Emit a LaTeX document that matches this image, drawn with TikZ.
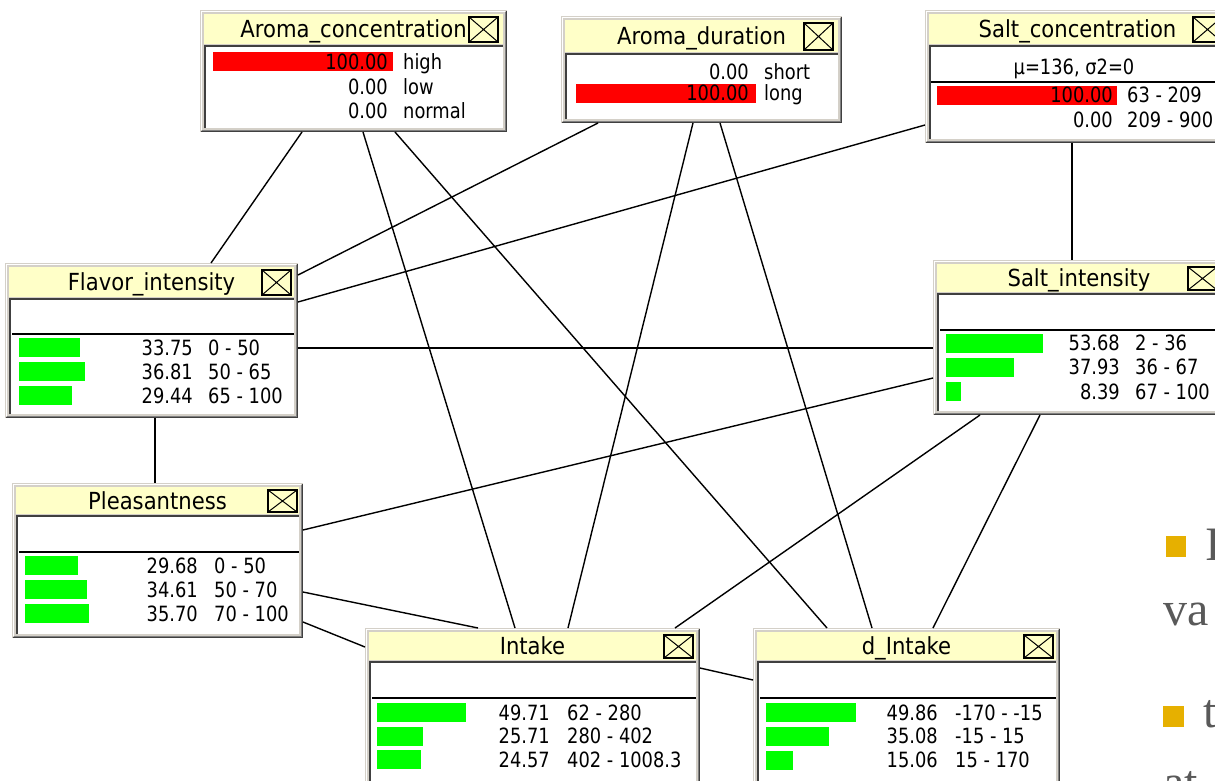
\documentclass[tikz,border=0pt]{standalone}
\usepackage{fontspec}
\usetikzlibrary{calc,fit}
\newfontfamily\titlefont[FakeStretch=0.9]{DejaVu Sans}
\newfontfamily\rowfont[FakeStretch=0.85]{DejaVu Sans}
\newfontfamily\slidefont{Liberation Serif}

\definecolor{framegray}{HTML}{D4D0C8}
\definecolor{shadowdark}{HTML}{404040}
\definecolor{shadowgray}{HTML}{808080}
\definecolor{titlebar}{HTML}{FFFFC8}
\definecolor{barred}{HTML}{FF0000}
\definecolor{bargreen}{HTML}{00FF00}
\definecolor{slidegray}{HTML}{595959}
\definecolor{bulletgold}{HTML}{E6B000}

\tikzset{
  connector/.style={draw=black, line width=1.4pt},
  titletext/.style={font=\titlefont\fontsize{23.5}{28}\selectfont, inner sep=0pt, anchor=base, text=black},
  rowtext/.style={font=\rowfont\fontsize{21}{25}\selectfont, inner sep=0pt, text=black},
  slidetext/.style={font=\slidefont\fontsize{48}{56}\selectfont, inner sep=0pt, anchor=base west, text=slidegray},
}

% #1 name, #2 x0, #3 y0, #4 x1, #5 y1, #6 bottom of title bar, #7 title, #8 left of close box
\newcommand\bnbox[8]{%
  \node[fit={(#2,#3)(#4,#5)}, inner sep=0pt, outer sep=0pt] (#1) {};
  \fill[framegray] (#2,#3) rectangle (#4,#5);
  \draw[white, line width=1.2pt] (#2+1.6,#5-2) -- (#2+1.6,#3+1.6) -- (#4-2,#3+1.6);
  \draw[shadowdark, line width=1.2pt] (#2+0.6,#5-0.6) -- (#4-0.6,#5-0.6) -- (#4-0.6,#3+0.6);
  \draw[shadowgray, line width=1.2pt] (#2+1.8,#5-1.8) -- (#4-1.8,#5-1.8) -- (#4-1.8,#3+1.8);
  \fill[titlebar] (#2+4,#3+4) rectangle (#4-4,#6);
  \begin{scope}
    \clip (#2+4,#3+4) rectangle (#8,#6);
    \node[titletext] at ({(#2+#4)/2},{(#3+4+#6)/2+8.5}) {#7};
  \end{scope}
  \draw[black, line width=1.4pt] (#8,#3+7) rectangle (#8+29,#6-2);
  \draw[black, line width=1pt] (#8,#3+7) -- (#8+29,#6-2) (#8,#6-2) -- (#8+29,#3+7);
  \fill[white] (#2+5,#6+1) rectangle (#4-4,#5-4);
  \draw[shadowdark, line width=2pt] (#2+5,#5-4) -- (#2+5,#6+1.5) -- (#4-4,#6+1.5);
}
% separator under the mean line: #1 x0, #2 x1, #3 y
\newcommand\bnsep[3]{\draw[black, line width=1.6pt] (#1,#3) -- (#2,#3);}
% state row: #1 bar left, #2 row centre y, #3 value, #4 bar colour, #5 value right edge, #6 label left, #7 label
\newcommand\bnrow[7]{%
  \pgfmathparse{(#3>0)?1:0}%
  \ifnum\pgfmathresult=1
    \fill[#4] (#1,#2-9.5) rectangle ({#1+1.8*#3},#2+9.5);
  \fi
  \node[rowtext, anchor=base east] at (#5,#2+7.5) {#3};
  \node[rowtext, anchor=base west] at (#6,#2+7.5) {#7};
}

\begin{document}
\begin{tikzpicture}[x=1pt,y=-1pt]
\useasboundingbox (0,0) rectangle (1215,780);
\fill[white] (0,0) rectangle (1215,780);
\clip (0,0) rectangle (1215,780);

% ---- nodes ----
\bnbox{ac}{200}{10}{507}{132}{44}{Aroma\_concentration}{469}
\bnrow{213}{61.5}{100.00}{barred}{388}{403}{high}
\bnrow{213}{86.5}{0.00}{bargreen}{388}{403}{low}
\bnrow{213}{110.5}{0.00}{bargreen}{388}{403}{normal}

\bnbox{ad}{561}{16}{842}{123}{52}{Aroma\_duration}{804}
\bnrow{576}{71.5}{0.00}{bargreen}{749}{764}{short}
\bnrow{576}{93}{100.00}{barred}{749}{764}{long}

\bnbox{sc}{925}{10}{1230}{143}{44}{Salt\_concentration}{1193}
\node[rowtext, anchor=base] (scmean) at (1074,74.5) {μ=136, σ2=0};
\bnsep{931}{1226}{82}
\bnrow{937}{95}{100.00}{barred}{1113}{1127}{63 - 209}
\bnrow{937}{119.5}{0.00}{bargreen}{1113}{1127}{209 - 900}

\bnbox{fi}{5}{263}{298}{418}{297}{Flavor\_intensity}{262}
\bnsep{12}{294}{334}
\bnrow{19}{347.5}{33.75}{bargreen}{193}{208}{0 - 50}
\bnrow{19}{371.5}{36.81}{bargreen}{193}{208}{50 - 65}
\bnrow{19}{395.5}{29.44}{bargreen}{193}{208}{65 - 100}

\bnbox{si}{933}{260}{1225}{415}{292}{Salt\_intensity}{1188}
\bnsep{940}{1221}{330}
\bnrow{946}{343}{53.68}{bargreen}{1120}{1135}{2 - 36}
\bnrow{946}{367}{37.93}{bargreen}{1120}{1135}{36 - 67}
\bnrow{946}{391.5}{8.39}{bargreen}{1120}{1135}{67 - 100}

\bnbox{pl}{12}{483}{303}{638}{514}{Pleasantness}{268}
\bnsep{19}{299}{552}
\bnrow{25}{565.5}{29.68}{bargreen}{198}{214}{0 - 50}
\bnrow{25}{589.5}{34.61}{bargreen}{198}{214}{50 - 70}
\bnrow{25}{613.5}{35.70}{bargreen}{198}{214}{70 - 100}

\bnbox{in}{365}{628}{700}{790}{660}{Intake}{664}
\bnsep{372}{696}{698}
\bnrow{377}{712.5}{49.71}{bargreen}{550}{567}{62 - 280}
\bnrow{377}{736}{25.71}{bargreen}{550}{567}{280 - 402}
\bnrow{377}{759.5}{24.57}{bargreen}{550}{567}{402 - 1008.3}

\bnbox{di}{753}{628}{1060}{790}{660}{d\_Intake}{1024}
\bnsep{760}{1056}{698}
\bnrow{766}{712.5}{49.86}{bargreen}{938}{955}{-170 - -15}
\bnrow{766}{736}{35.08}{bargreen}{938}{955}{-15 - 15}
\bnrow{766}{760}{15.06}{bargreen}{938}{955}{15 - 170}

% ---- links between the nodes ----
\draw[connector] ($(ac.south west)+(102,0)$) -- ($(fi.north west)+(206,0)$);
\draw[connector] ($(ac.south west)+(163,0)$) -- ($(in.north west)+(150,0)$);
\draw[connector] ($(ac.south west)+(195,0)$) -- ($(di.north west)+(74,0)$);
\draw[connector] ($(ad.south west)+(37,0)$) -- ($(fi.north east)+(0,12)$);
\draw[connector] ($(ad.south west)+(132,0)$) -- ($(in.north west)+(203,0)$);
\draw[connector] ($(ad.south west)+(159,0)$) -- ($(di.north west)+(119,0)$);
\draw[connector] ($(sc.north west)+(0,115)$) -- ($(fi.north east)+(0,39)$);
\draw[connector] ($(sc.south west)+(147,0)$) -- ($(si.north west)+(139,0)$);
\draw[connector] ($(fi.north east)+(0,85)$) -- ($(si.north west)+(0,88)$);
\draw[connector] ($(fi.south west)+(150,0)$) -- ($(pl.north west)+(143,0)$);
\draw[connector] ($(si.north west)+(0,118)$) -- ($(pl.north east)+(0,47)$);
\draw[connector] ($(si.south west)+(47,0)$) -- ($(in.north west)+(310,0)$);
\draw[connector] ($(si.south west)+(107,0)$) -- ($(di.north west)+(180,0)$);
\draw[connector] ($(pl.north east)+(0,109)$) -- ($(in.north west)+(113,0)$);
\draw[connector] ($(pl.north east)+(0,139)$) -- ($(in.north west)+(0,19)$);
\draw[connector] ($(in.north east)+(0,40)$) -- ($(di.north west)+(0,52)$);

% ---- slide text at the right edge ----
\fill[bulletgold] (1166,536) rectangle (1186,557);
\node[slidetext] (t1) at (1205,560) {I};
\node[slidetext] (t2) at (1163,625) {va};
\fill[bulletgold] (1163,706) rectangle (1184,727);
\node[slidetext] (t3) at (1203,727) {t};
\node[slidetext] (t4) at (1163,798) {at};
\end{tikzpicture}
\end{document}
